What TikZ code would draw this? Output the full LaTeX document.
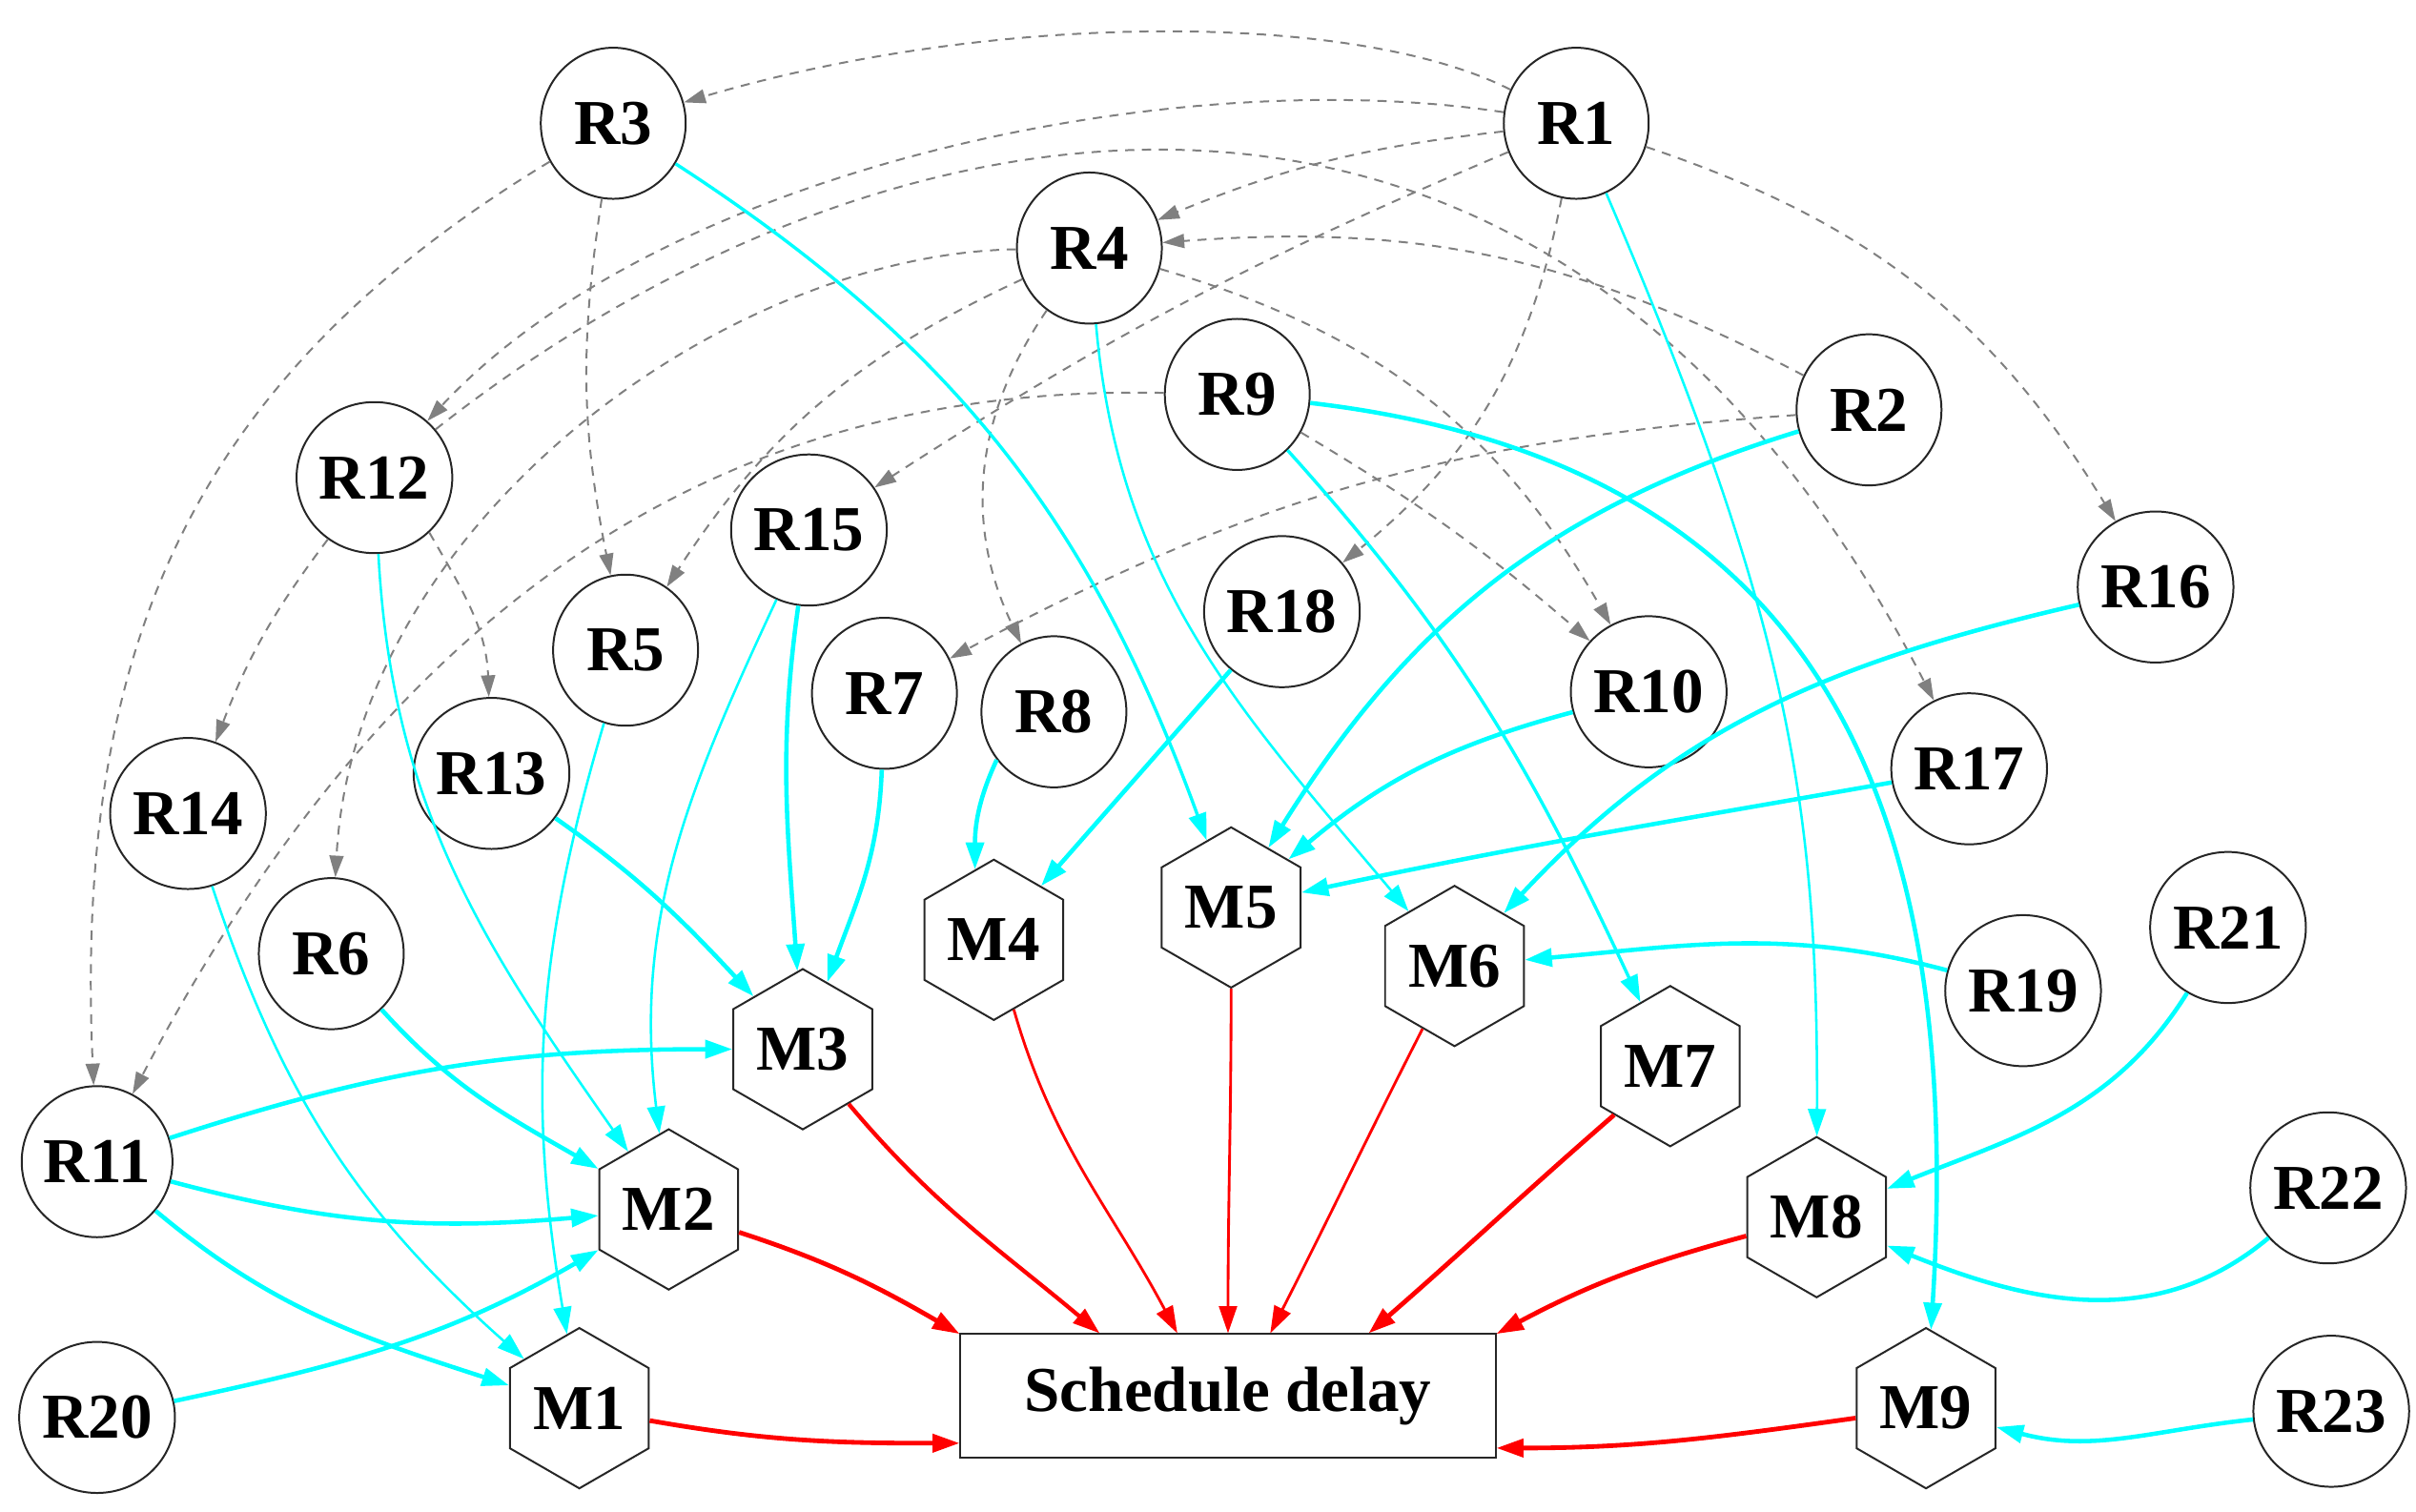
\documentclass[tikz,border=0pt]{standalone}
\usepackage{fontspec}
\setmainfont{Liberation Serif}
\usetikzlibrary{arrows.meta,shapes.geometric}
\definecolor{cyanline}{RGB}{0,255,255}
\definecolor{redline}{RGB}{255,0,0}
\definecolor{grayline}{RGB}{128,128,128}
\tikzset{
  lab/.style={font=\bfseries\fontsize{11.8}{14}\selectfont},
  rnode/.style={lab,draw=black!85,ellipse,line width=0.35pt,minimum width=0.94cm,minimum height=0.98cm,inner sep=0pt},
  mnode/.style={lab,draw=black!85,regular polygon,regular polygon sides=6,shape border rotate=30,line width=0.35pt,minimum size=1.04cm,inner sep=0pt},
  sdbox/.style={lab,draw=black!85,line width=0.35pt,minimum width=3.47cm,minimum height=0.8cm},
  dep/.style={-{Triangle[length=4pt,width=2.6pt]},draw=grayline,dash pattern=on 1.7pt off 1.4pt,line width=0.35pt},
  cy/.style={-{Triangle[length=5pt,width=3.3pt]},draw=cyanline,line width=0.45pt},
  cym/.style={cy,line width=0.6pt},
  cyt/.style={cy,line width=0.8pt},
  rd/.style={-{Triangle[length=5pt,width=3.3pt]},draw=redline},
}
\begin{document}
\begin{tikzpicture}[x=0.01cm,y=0.01cm]
\useasboundingbox (0,0) rectangle (1568,-981);
\foreach \n/\x/\y in {R1/1023/80,R2/1213/266,R3/398/80,R4/707/161,R5/406/422,R6/215/619,R7/574/450,R8/684/462,R9/803/256,R10/1070/449,R11/63/754,R12/243/310,R13/319/502,R14/122/528,R15/525/344,R16/1399/381,R17/1278/499,R18/832/397,R19/1313/643,R20/63/920,R21/1446/602,R22/1511/771,R23/1513/916}
{\node[rnode] (\n) at (\x,-\y) {\n};}
\foreach \n/\x/\y in {M1/376/914,M2/434/785,M3/521/681,M4/645/610,M5/799/589,M6/944/627,M7/1084/692,M8/1179/790,M9/1250/914}
{\node[mnode] (\n) at (\x,-\y) {\n};}
\node[sdbox] (sd) at (797,-906) {Schedule delay};

\foreach \a/\b/\c in {R1/R4/8,R1/R15/5,R2/R4/16,R2/R7/12,R3/R5/10,R4/R5/16,R4/R8/30,R12/R14/8}
{\draw[dep] (\a) to[bend right=\c] (\b);}
\foreach \a/\b/\c in {R1/R18/20,R1/R16/20,R4/R10/22,R9/R10/5}
{\draw[dep] (\a) to[bend left=\c] (\b);}
\draw[dep] (R1) .. controls (880,-7) and (645,-7) .. (R3);
\draw[dep] (R1) .. controls (760,-40) and (430,-110) .. (R12);
\draw[dep] (R3) .. controls (125,-245) and (48,-420) .. (R11);
\draw[dep] (R4) .. controls (470,-165) and (230,-340) .. (R6);
\draw[dep] (R9) .. controls (520,-250) and (280,-340) .. (R11);
\draw[dep] (R12.-45) to[out=-60,in=92] (R13);
\draw[dep] (R12) .. controls (560,-60) and (1000,40) .. (R17);

\draw[cy] (R5) to[bend right=13] (M1);
\draw[cy] (R14) to[bend right=15] (M1);
\draw[cyt] (R11) to[out=-40,in=162] (M1);
\draw[cy] (R12) to[out=-87,in=125] (M2);
\draw[cy] (R15) to[out=-115,in=97] (M2);
\draw[cyt] (R6) to[out=-48,in=150] (M2);
\draw[cyt] (R11) to[out=-15,in=-175] (M2);
\draw[cyt] (R20) to[out=12,in=-150] (M2);
\draw[cyt] (R11) to[out=18,in=180] (M3);
\draw[cyt] (R13) to[out=-35,in=133] (M3);
\draw[cyt] (R15) to[out=-98,in=94] (M3);
\draw[cyt] (R7) to[out=-92,in=70] (M3);
\draw[cyt] (R8.-140) to[out=-115,in=90] (M4.105);
\draw[cyt] (R18) -- (M4);
\draw[cym] (R3) to[out=-33,in=110] (M5);
\draw[cyt] (R2) to[out=197,in=58] (M5);
\draw[cyt] (R10) to[out=195,in=40] (M5);
\draw[cyt] (R17) to[out=190,in=12] (M5);
\draw[cy] (R4) to[out=-85,in=130] (M6);
\draw[cyt] (R16) to[out=193,in=47] (M6);
\draw[cyt] (R19) to[out=165,in=5] (M6);
\draw[cym] (R9) to[out=-48,in=115] (M7);
\draw[cy] (R1) .. controls (1160,-400) and (1180,-520) .. (M8);
\draw[cyt] (R21) to[out=-122,in=22] (M8);
\draw[cyt] (R22) to[out=-140,in=-22] (M8);
\draw[cyt] (R9) .. controls (1180,-300) and (1275,-520) .. (M9);
\draw[cyt] (R23) to[out=186,in=-15] (M9);

\foreach \m/\o/\i/\a/\w in {M1/-10/180/190/0.85pt,M2/-18/150/167/0.85pt,M3/-50/140/154/0.75pt,M4/-74/118/129/0.5pt,M5/-90/90/90/0.5pt,M6/-117/63/56/0.5pt,M7/-139/41/24/0.85pt,M8/-165/28/13/0.85pt,M9/-172/0/-11/0.85pt}
{\draw[rd,line width=\w] (\m) to[out=\o,in=\i] (sd.\a);}
\end{tikzpicture}
\end{document}
